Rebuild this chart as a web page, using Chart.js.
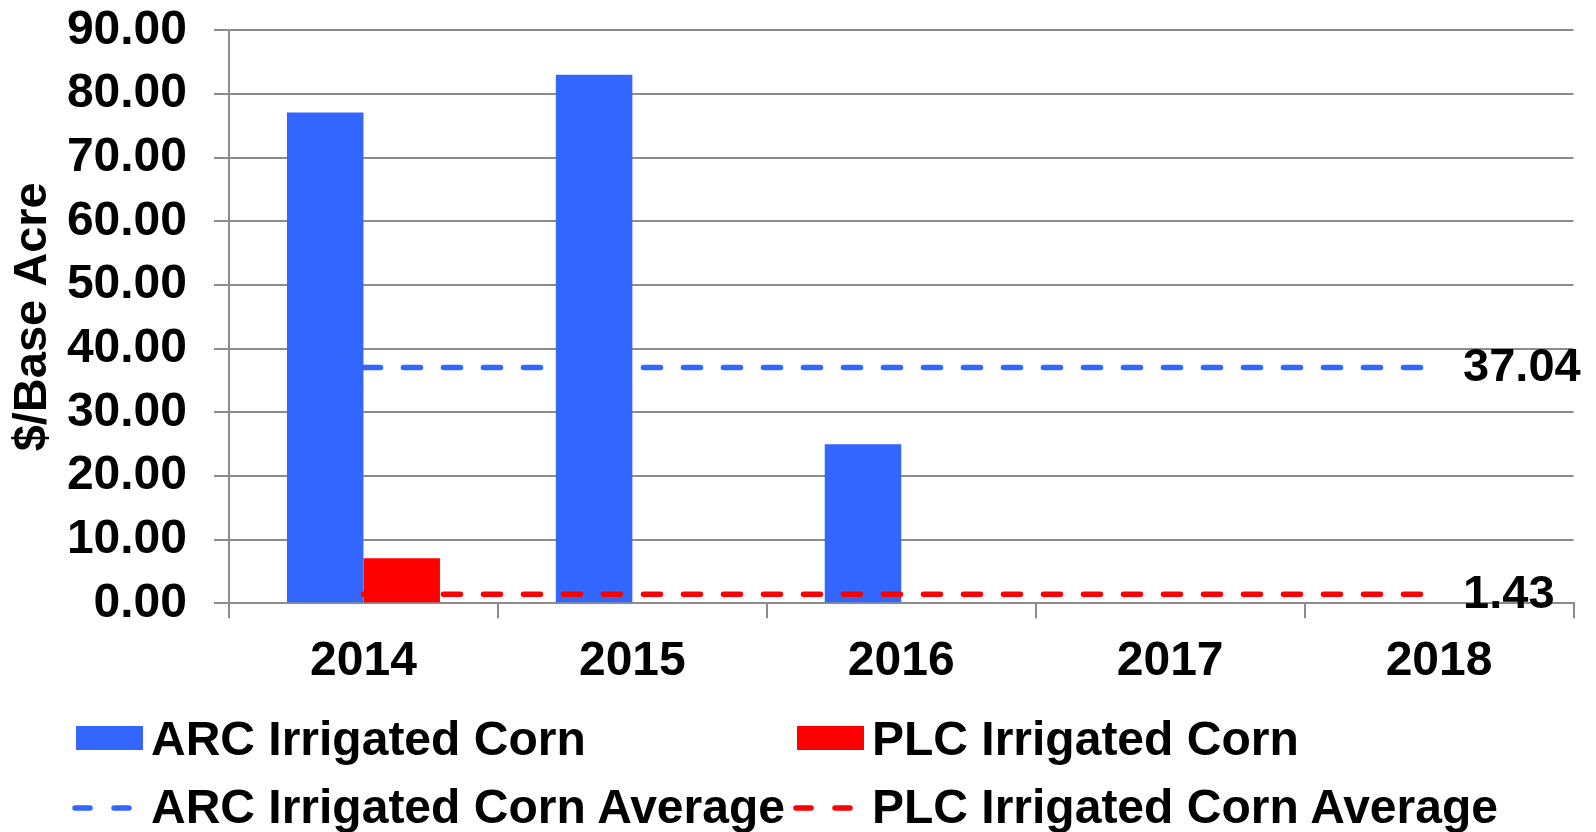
<!DOCTYPE html>
<html>
<head>
<meta charset="utf-8">
<script src="https://cdn.jsdelivr.net/npm/chart.js@4/dist/chart.umd.min.js"></script>
<style>
  html, body { margin: 0; padding: 0; background: #fff; }
  #wrap { position: relative; width: 1596px; height: 832px; overflow: hidden; }
  #c { position: absolute; left: 0; top: 0; }
  .lg { position: absolute; font-family: "Liberation Sans", Arial, sans-serif; font-weight: bold;
        font-size: 48px; line-height: 48px; color: #000; white-space: nowrap; }
  .sw { position: absolute; }
</style>
</head>
<body>
<div id="wrap">
  <canvas id="c" width="1596" height="832"></canvas>
  <div id="legend"></div>
</div>
<script>
const years = ['2014', '2015', '2016', '2017', '2018'];
const arcIrrigatedCorn = [77.1, 83.0, 25.0, 0, 0];
const plcIrrigatedCorn = [7.06, 0, 0, 0, 0];
const arcAverage = [37.04, 37.04, 37.04, 37.04, 37.04];
const plcAverage = [1.43, 1.43, 1.43, 1.43, 1.43];
const yTicks = [0, 10, 20, 30, 40, 50, 60, 70, 80, 90];
const seriesNames = ['ARC Irrigated Corn', 'PLC Irrigated Corn', 'ARC Irrigated Corn Average', 'PLC Irrigated Corn Average'];

const BLUE = '#3366FF';
const RED = '#FF0000';
const GRID = '#8c8c8c';
const FONT = '"Liberation Sans", Arial, sans-serif';

const endLabelPlugin = {
  id: 'endLabel',
  afterDatasetsDraw(chart) {
    const ctx = chart.ctx;
    chart.data.datasets.forEach((ds, i) => {
      if (!ds.endLabel) return;
      const meta = chart.getDatasetMeta(i);
      const pt = meta.data[meta.data.length - 1];
      ctx.save();
      ctx.font = 'bold 47px ' + FONT;
      ctx.fillStyle = '#000';
      ctx.textAlign = 'left';
      ctx.textBaseline = 'middle';
      ctx.fillText(ds.endLabel, pt.x + 24, pt.y + 1);
      ctx.restore();
    });
  }
};

new Chart(document.getElementById('c'), {
  type: 'bar',
  data: {
    labels: years,
    datasets: [
      { type: 'line', label: seriesNames[2], data: arcAverage, borderColor: BLUE, borderWidth: 5.5,
        borderDash: [17, 23], borderCapStyle: 'round', pointRadius: 0, fill: false, order: 0,
        endLabel: arcAverage[arcAverage.length - 1].toFixed(2) },
      { type: 'line', label: seriesNames[3], data: plcAverage, borderColor: RED, borderWidth: 5.5,
        borderDash: [17, 23], borderCapStyle: 'round', pointRadius: 0, fill: false, order: 0,
        endLabel: plcAverage[plcAverage.length - 1].toFixed(2) },
      { label: seriesNames[0], data: arcIrrigatedCorn, backgroundColor: BLUE, order: 1,
        categoryPercentage: 0.569, barPercentage: 1.0 },
      { label: seriesNames[1], data: plcIrrigatedCorn, backgroundColor: RED, order: 1,
        categoryPercentage: 0.569, barPercentage: 1.0 }
    ]
  },
  options: {
    responsive: false,
    animation: false,
    layout: { padding: { top: 30.3, right: 22.5, bottom: 0, left: 0 } },
    plugins: { legend: { display: false }, tooltip: { enabled: false } },
    scales: {
      x: {
        grid: { display: true, drawOnChartArea: false, drawTicks: true, tickLength: 15, color: GRID, lineWidth: 2, offset: true },
        border: { display: true, color: GRID, width: 2 },
        ticks: { color: '#000', font: { family: FONT, size: 48, weight: 'bold' }, padding: 15, maxRotation: 0 },
        afterFit(scale) { scale.height = 832 - 603.3; }
      },
      y: {
        min: 0, max: 90,
        afterBuildTicks(scale) { scale.ticks = yTicks.map(v => ({ value: v })); },
        grid: { color: GRID, lineWidth: 2, tickLength: 15, drawTicks: true },
        border: { display: true, color: GRID, width: 2 },
        ticks: { color: '#000', font: { family: FONT, size: 48, weight: 'bold' }, padding: 27,
                 callback: v => Number(v).toFixed(2) },
        title: { display: true, text: '$/Base Acre', color: '#000',
                 font: { family: FONT, size: 47, weight: 'bold' }, padding: { top: 5, bottom: 0 } },
        afterFit(scale) { scale.width = 229; scale.paddingTop = 0; scale.paddingBottom = 0; }
      }
    }
  },
  plugins: [endLabelPlugin]
});

// Legend (HTML)
const legend = document.getElementById('legend');
const items = [
  { name: seriesNames[0], kind: 'box', color: BLUE, x: 76, y: 715 },
  { name: seriesNames[1], kind: 'box', color: RED, x: 797, y: 715 },
  { name: seriesNames[2], kind: 'dash', color: BLUE, x: 76, y: 783 },
  { name: seriesNames[3], kind: 'dash', color: RED, x: 797, y: 783 }
];
items.forEach(it => {
  if (it.kind === 'box') {
    const b = document.createElement('div');
    b.className = 'sw';
    b.style.cssText = `left:${it.x}px;top:726px;width:67px;height:24px;background:${it.color};`;
    legend.appendChild(b);
  } else {
    const ns = 'http://www.w3.org/2000/svg';
    const s = document.createElementNS(ns, 'svg');
    s.setAttribute('width', '70'); s.setAttribute('height', '20');
    s.setAttribute('class', 'sw');
    s.style.left = (it.x - 4) + 'px'; s.style.top = '798px';
    const l = document.createElementNS(ns, 'line');
    l.setAttribute('x1', '3'); l.setAttribute('y1', '10');
    l.setAttribute('x2', '66'); l.setAttribute('y2', '10');
    l.setAttribute('stroke', it.color); l.setAttribute('stroke-width', '5.5');
    l.setAttribute('stroke-linecap', 'round');
    l.setAttribute('stroke-dasharray', '15 24');
    s.appendChild(l);
    legend.appendChild(s);
  }
  const t = document.createElement('div');
  t.className = 'lg';
  t.style.left = (it.x + 75) + 'px';
  t.style.top = it.y + 'px';
  t.textContent = it.name;
  legend.appendChild(t);
});
</script>
</body>
</html>
